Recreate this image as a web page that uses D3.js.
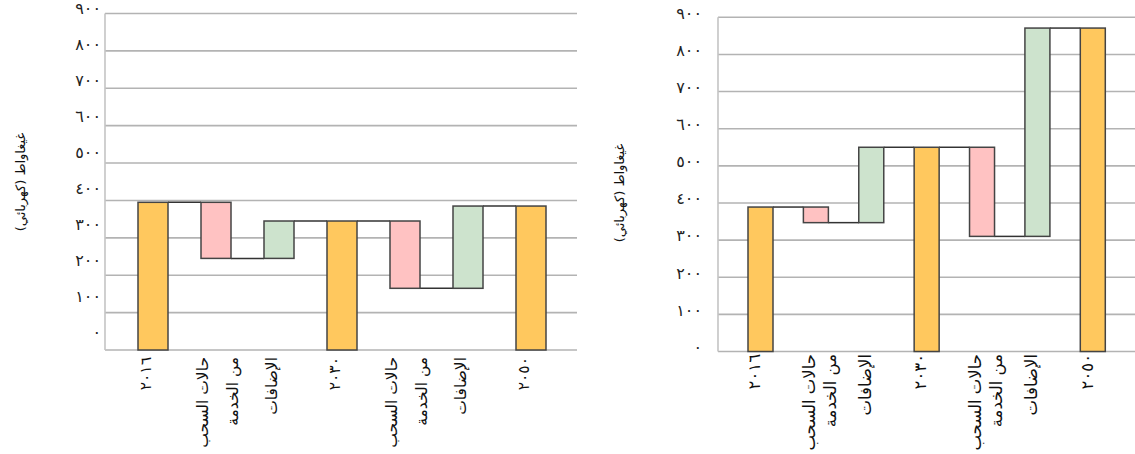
<!DOCTYPE html>
<html><head><meta charset="utf-8">
<script src="https://cdn.jsdelivr.net/npm/d3@7"></script>
<style>
html,body{margin:0;padding:0;background:#fff;}
svg{display:block;font-family:"DejaVu Sans",sans-serif;}
</style></head>
<body>
<svg id="chart" width="1135" height="454"></svg>
<script>
// ---- data ----
const categories = ["2016", "retire1", "add1", "2030", "retire2", "add2", "2050"];
const categoryLabels = [["٢٠١٦"], ["حالات السحب", "من الخدمة"], ["الإضافات"], ["٢٠٣٠"], ["حالات السحب", "من الخدمة"], ["الإضافات"], ["٢٠٥٠"]];
const barTypes = ["total", "decrease", "increase", "total", "decrease", "increase", "total"];
const leftValues = [395, -150, 100, 345, -180, 220, 385];
const rightValues = [389, -42, 203, 550, -240, 561, 871];
const yTicks = [0, 100, 200, 300, 400, 500, 600, 700, 800, 900];
const yTitle = "غيغاواط (كهربائي)";

const colors = {total: "#FFC85E", decrease: "#FFC2C2", increase: "#CDE3CD"};
const arabicDigits = "٠١٢٣٤٥٦٧٨٩";
const toArabic = n => String(n).replace(/[0-9]/g, d => arabicDigits[+d]);

const svg = d3.select("#chart");

function drawChart(cfg, values) {
  const g = svg.append("g");
  const y = d3.scaleLinear().domain([0, 900]).range([cfg.y0, cfg.y900]);
  const yLab = d3.scaleLinear().domain([0, 900]).range([cfg.lab0, cfg.lab900]);
  const x = d3.scalePoint().domain(categories).range([cfg.c0, cfg.c1]);

  // gridlines
  g.selectAll(".grid").data(yTicks).enter().append("line")
    .attr("x1", cfg.left).attr("x2", cfg.right)
    .attr("y1", d => y(d)).attr("y2", d => y(d))
    .attr("stroke", "#b3b3b3").attr("stroke-width", 1.6);
  g.append("line").attr("x1", cfg.left).attr("x2", cfg.left)
    .attr("y1", y(900)).attr("y2", y(0))
    .attr("stroke", "#c4c4c4").attr("stroke-width", 1.6);

  // tick labels via axis
  const ax = d3.axisLeft(yLab).tickValues(yTicks).tickSize(0).tickPadding(0).tickFormat(toArabic);
  const axG = g.append("g").attr("transform", `translate(${cfg.labX},0)`).call(ax);
  axG.select(".domain").remove();
  axG.selectAll("text").attr("font-size", 16).attr("fill", "#222").attr("font-family", "DejaVu Sans").attr("dy", "0.05em");

  // waterfall computation
  let run = 0;
  const bars = values.map((v, i) => {
    let lo, hi, end;
    if (barTypes[i] === "total") { lo = 0; hi = v; end = v; }
    else { const s = run; end = s + v; lo = Math.min(s, end); hi = Math.max(s, end); }
    run = end;
    return {cat: categories[i], type: barTypes[i], lo, hi, end};
  });

  // connectors
  const conns = bars.slice(0, -1).map((b, i) => ({from: b.cat, to: bars[i + 1].cat, level: b.end}));
  g.selectAll(".conn").data(conns).enter().append("line")
    .attr("x1", d => x(d.from) + cfg.bw / 2).attr("x2", d => x(d.to) - cfg.bw / 2)
    .attr("y1", d => y(d.level)).attr("y2", d => y(d.level))
    .attr("stroke", "#333").attr("stroke-width", 1.5);

  // bars
  g.selectAll(".bar").data(bars).enter().append("rect")
    .attr("x", d => x(d.cat) - cfg.bw / 2).attr("width", cfg.bw)
    .attr("y", d => y(d.hi)).attr("height", d => y(d.lo) - y(d.hi))
    .attr("fill", d => colors[d.type]).attr("stroke", "#444").attr("stroke-width", 1.5);

  // category labels (rotated)
  categoryLabels.forEach((lines, i) => {
    const cx = x(categories[i]);
    lines.forEach((t, j) => {
      const off = lines.length === 1 ? cfg.singleOff : (j === 0 ? cfg.l1Off : cfg.l2Off);
      g.append("text")
        .attr("transform", `translate(${cx + off},${cfg.labTop}) rotate(-90)`)
        .attr("text-anchor", "end").attr("dy", "0.35em")
        .attr("font-size", cfg.catFont).attr("fill", "#111")
        .text(t);
    });
  });

  // y title
  g.append("text")
    .attr("transform", `translate(${cfg.titleX},${cfg.titleY}) rotate(-90)`)
    .attr("text-anchor", "middle").attr("dy", "0.35em")
    .attr("font-size", 13).attr("fill", "#111")
    .text(yTitle);
}

drawChart({y0: 350, y900: 13.5, lab0: 337, lab900: 13, c0: 153, c1: 531, bw: 30,
  left: 105, right: 577, labX: 101, labTop: 357, singleOff: -7, l1Off: -13, l2Off: 17,
  catFont: 15.5, titleX: 20, titleY: 182}, leftValues);
drawChart({y0: 351.5, y900: 17.3, lab0: 351.5, lab900: 17.3, c0: 760.5, c1: 1092.8, bw: 25,
  left: 718, right: 1135, labX: 702, labTop: 354, singleOff: -6, l1Off: -7, l2Off: 14,
  catFont: 16.5, titleX: 619, titleY: 193}, rightValues);
</script>
</body></html>
